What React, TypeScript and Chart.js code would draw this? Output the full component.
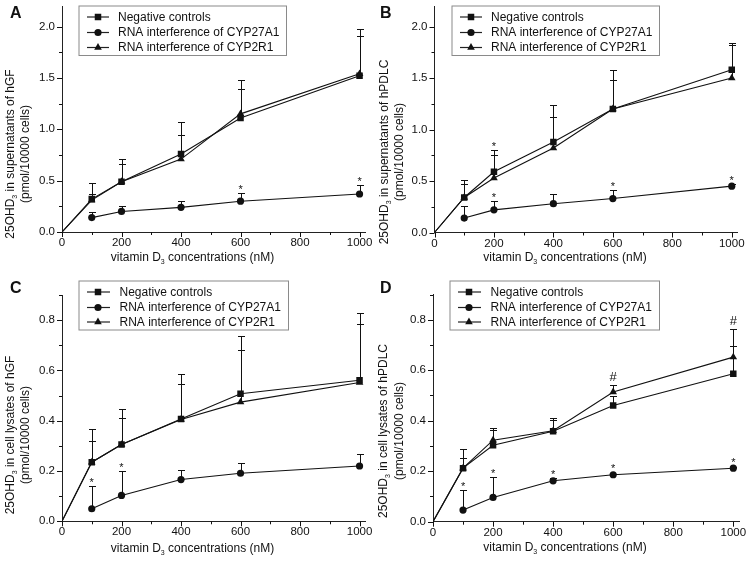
import React, { useEffect, useRef } from 'react';
import { Chart, registerables } from 'chart.js';
Chart.register(...registerables);

// ---------- shared data ----------
const doses = [0, 100, 200, 400, 600, 1000];
const rnaiDoses = [100, 200, 400, 600, 1000];
const seriesNames = ['Negative controls', 'RNA interference of CYP27A1', 'RNA interference of CYP2R1'];
const xTitle = 'vitamin D₃ concentrations (nM)';
const xMax = 1020;
const xMajor = 200;
const xMinor = 100;

// ---------- panel A: supernatants of hGF ----------
const aYTitle = ['25OHD₃ in supernatants of hGF', '(pmol/10000 cells)'];
const aNeg = [0, 0.32, 0.49, 0.76, 1.11, 1.52];
const aNegSD = [0, 0.16, 0.22, 0.31, 0.37, 0.46];
const aA1 = [0.14, 0.2, 0.24, 0.3, 0.37];
const aA1SD = [0.05, 0.055, 0.06, 0.08, 0.085];
const aR1 = [0, 0.31, 0.49, 0.71, 1.15, 1.54];
const aR1SD = [0, 0.06, 0.17, 0.23, 0.24, 0.37];
const aStarsNeg: number[] = [];
const aStarsA1 = [600, 1000];
const aHashR1: number[] = [];

// ---------- panel B: supernatants of hPDLC ----------
const bYTitle = ['25OHD₃ in supernatants of hPDLC', '(pmol/10000 cells)'];
const bNeg = [0, 0.34, 0.59, 0.88, 1.2, 1.58];
const bNegSD = [0, 0.17, 0.21, 0.36, 0.38, 0.26];
const bA1 = [0.14, 0.22, 0.28, 0.33, 0.45];
const bA1SD = [0.12, 0.09, 0.095, 0.08, 0.02];
const bR1 = [0, 0.34, 0.53, 0.82, 1.2, 1.5];
const bR1SD = [0, 0.13, 0.22, 0.3, 0.28, 0.32];
const bStarsNeg = [200];
const bStarsA1 = [200, 600, 1000];
const bHashR1: number[] = [];

// ---------- panel C: cell lysates of hGF ----------
const cYTitle = ['25OHD₃ in cell lysates of hGF', '(pmol/10000 cells)'];
const cNeg = [0, 0.235, 0.305, 0.407, 0.507, 0.561];
const cNegSD = [0, 0.132, 0.143, 0.177, 0.228, 0.269];
const cA1 = [0.05, 0.103, 0.166, 0.191, 0.22];
const cA1SD = [0.092, 0.097, 0.038, 0.041, 0.049];
const cR1 = [0, 0.235, 0.305, 0.405, 0.474, 0.552];
const cR1SD = [0, 0.083, 0.105, 0.143, 0.206, 0.232];
const cStarsNeg: number[] = [];
const cStarsA1 = [100, 200];
const cHashR1: number[] = [];

// ---------- panel D: cell lysates of hPDLC ----------
const dYTitle = ['25OHD₃ in cell lysates of hPDLC', '(pmol/10000 cells)'];
const dNeg = [0, 0.212, 0.303, 0.358, 0.46, 0.586];
const dNegSD = [0, 0.075, 0.062, 0.052, 0.037, 0.11];
const dA1 = [0.046, 0.096, 0.162, 0.186, 0.212];
const dA1SD = [0.081, 0.083, 0.012, 0.004, 0.004];
const dR1 = [0, 0.212, 0.323, 0.36, 0.514, 0.652];
const dR1SD = [0, 0.042, 0.049, 0.043, 0.026, 0.112];
const dStarsNeg: number[] = [];
const dStarsA1 = [100, 200, 400, 600, 1000];
const dHashR1 = [600, 1000];

// ---------- styling ----------
const SANS = '"Liberation Sans", Arial, Helvetica, sans-serif';
const INK = '#111';

type Rect = { left: number; top: number; w: number; h: number };
type Plot = { left: number; top: number; right: number; bottom: number };

const legendAB = { box: [78.5, 5.5, 286, 55], rows: [17, 32.5, 47.5], line: [87, 109], mark: 98, text: 118 };
const legendCD = { box: [78.5, 0.5, 288, 49.5], rows: [12, 27.5, 42], line: [87, 110], mark: 98, text: 119.5 };

const panels = [
  {
    letter: 'A', letterPos: [10, 14], canvas: { left: 0, top: 0, w: 373, h: 280 },
    plot: { left: 62, top: 6, right: 365.5, bottom: 232 },
    yMax: 2.2, yMajor: 0.5, yMinor: 0.25, yTitle: aYTitle, yTitlePos: [11, 26, 154], xTitlePos: [192.5, 258],
    legend: legendAB,
    neg: aNeg, negSD: aNegSD, a1: aA1, a1SD: aA1SD, r1: aR1, r1SD: aR1SD,
    starsNeg: aStarsNeg, starsA1: aStarsA1, hashR1: aHashR1,
  },
  {
    letter: 'B', letterPos: [7, 14], canvas: { left: 373, top: 0, w: 377, h: 280 },
    plot: { left: 434.5, top: 6, right: 737.7, bottom: 232.5 },
    yMax: 2.2, yMajor: 0.5, yMinor: 0.25, yTitle: bYTitle, yTitlePos: [12, 27, 152], xTitlePos: [192, 258],
    legend: legendAB,
    neg: bNeg, negSD: bNegSD, a1: bA1, a1SD: bA1SD, r1: bR1, r1SD: bR1SD,
    starsNeg: bStarsNeg, starsA1: bStarsA1, hashR1: bHashR1,
  },
  {
    letter: 'C', letterPos: [10, 9], canvas: { left: 0, top: 280, w: 373, h: 283 },
    plot: { left: 62, top: 295, right: 365.5, bottom: 521.3 },
    yMax: 0.9, yMajor: 0.2, yMinor: 0.1, yTitle: cYTitle, yTitlePos: [11, 26, 155], xTitlePos: [192.5, 269],
    legend: legendCD,
    neg: cNeg, negSD: cNegSD, a1: cA1, a1SD: cA1SD, r1: cR1, r1SD: cR1SD,
    starsNeg: cStarsNeg, starsA1: cStarsA1, hashR1: cHashR1,
  },
  {
    letter: 'D', letterPos: [9, 9], canvas: { left: 371, top: 280, w: 379, h: 283 },
    plot: { left: 433, top: 294.5, right: 739.3, bottom: 521.7 },
    yMax: 0.9, yMajor: 0.2, yMinor: 0.1, yTitle: dYTitle, yTitlePos: [13, 29, 151], xTitlePos: [194, 268],
    legend: legendCD,
    neg: dNeg, negSD: dNegSD, a1: dA1, a1SD: dA1SD, r1: dR1, r1SD: dR1SD,
    starsNeg: dStarsNeg, starsA1: dStarsA1, hashR1: dHashR1,
  },
];

const MARK = { rect: 4.6, circle: 3.6, triangle: 4.4 };

function isMult(v: number, step: number) {
  const q = v / step;
  return Math.abs(q - Math.round(q)) < 1e-6;
}

function drawMarker(ctx: CanvasRenderingContext2D, style: string, x: number, y: number) {
  ctx.beginPath();
  if (style === 'rect') {
    const s = MARK.rect * Math.SQRT1_2;
    ctx.rect(x - s, y - s, 2 * s, 2 * s);
  } else if (style === 'circle') {
    ctx.arc(x, y, MARK.circle, 0, Math.PI * 2);
  } else {
    const r = MARK.triangle;
    ctx.moveTo(x, y - r);
    ctx.lineTo(x + r * 0.866, y + r * 0.5);
    ctx.lineTo(x - r * 0.866, y + r * 0.5);
    ctx.closePath();
  }
  ctx.fill();
}

// draws text where '₃' is rendered as a lowered small "3"
function drawSubText(ctx: CanvasRenderingContext2D, text: string, cx: number, cy: number, size: number) {
  const parts = text.split('₃');
  const segs: { t: string; sub: boolean }[] = [];
  parts.forEach((p, i) => {
    if (i > 0) segs.push({ t: '3', sub: true });
    segs.push({ t: p, sub: false });
  });
  const big = `${size}px ${SANS}`;
  const small = `${Math.round(size * 0.62)}px ${SANS}`;
  let total = 0;
  const widths = segs.map((s) => {
    ctx.font = s.sub ? small : big;
    const w = ctx.measureText(s.t).width;
    total += w;
    return w;
  });
  let x = cx - total / 2;
  ctx.textAlign = 'left';
  ctx.textBaseline = 'middle';
  segs.forEach((s, i) => {
    ctx.font = s.sub ? small : big;
    ctx.fillText(s.t, x, s.sub ? cy + size * 0.33 : cy);
    x += widths[i];
  });
}

function PanelChart({ cfg }: { cfg: (typeof panels)[number] }) {
  const ref = useRef<HTMLCanvasElement>(null);
  const c: Rect = cfg.canvas;
  useEffect(() => {
    const canvas = ref.current!;
    const p: Plot = cfg.plot;
    const series = [
      { name: seriesNames[0], xs: doses, ys: cfg.neg, sd: cfg.negSD, style: 'rect' },
      { name: seriesNames[1], xs: rnaiDoses, ys: cfg.a1, sd: cfg.a1SD, style: 'circle' },
      { name: seriesNames[2], xs: doses, ys: cfg.r1, sd: cfg.r1SD, style: 'triangle' },
    ];

    const decor = {
      id: 'decor' + cfg.letter,
      beforeDatasetsDraw(chart: any) {
        const ctx: CanvasRenderingContext2D = chart.ctx;
        const xs = chart.scales.x;
        const ys = chart.scales.y;
        ctx.save();
        ctx.strokeStyle = INK;
        ctx.lineWidth = 1;
        series.forEach((s) => {
          s.xs.forEach((xv, i) => {
            const sd = s.sd[i];
            if (!sd) return;
            const px = Math.round(xs.getPixelForValue(xv)) + 0.5;
            const y0 = ys.getPixelForValue(s.ys[i]);
            const y1 = Math.round(ys.getPixelForValue(s.ys[i] + sd)) + 0.5;
            ctx.beginPath();
            ctx.moveTo(px, y0);
            ctx.lineTo(px, y1);
            ctx.moveTo(px - 3.5, y1);
            ctx.lineTo(px + 3.5, y1);
            ctx.stroke();
          });
        });
        ctx.restore();
      },
      afterDraw(chart: any) {
        const ctx: CanvasRenderingContext2D = chart.ctx;
        const xs = chart.scales.x;
        const ys = chart.scales.y;
        const area = chart.chartArea;
        ctx.save();
        ctx.strokeStyle = INK;
        ctx.fillStyle = INK;
        ctx.lineWidth = 1;
        // tick marks
        ctx.beginPath();
        xs.ticks.forEach((t: any) => {
          if (t.value > 1000 || !isMult(t.value, xMinor)) return;
          const len = isMult(t.value, xMajor) ? 5 : 3;
          const px = Math.round(xs.getPixelForValue(t.value)) + 0.5;
          ctx.moveTo(px, area.bottom);
          ctx.lineTo(px, area.bottom + len);
        });
        ys.ticks.forEach((t: any) => {
          if (!isMult(t.value, cfg.yMinor)) return;
          const len = isMult(t.value, cfg.yMajor) ? 5 : 3;
          const py = Math.round(ys.getPixelForValue(t.value)) + 0.5;
          ctx.moveTo(area.left, py);
          ctx.lineTo(area.left - len, py);
        });
        ctx.stroke();

        // significance marks
        const placeMark = (s: any, xv: number, txt: string, off: number, font: string, base: number) => {
          const i = s.xs.indexOf(xv);
          if (i < 0) return;
          const py = ys.getPixelForValue(s.ys[i]);
          const cap = ys.getPixelForValue(s.ys[i] + (s.sd[i] || 0));
          const cy = Math.min(cap, py - 2.5) - off;
          ctx.font = font;
          ctx.textAlign = 'center';
          ctx.textBaseline = 'alphabetic';
          ctx.fillText(txt, xs.getPixelForValue(xv), cy + base);
        };
        cfg.starsNeg.forEach((xv) => placeMark(series[0], xv, '*', 6, `11px ${SANS}`, 6));
        cfg.starsA1.forEach((xv) => placeMark(series[1], xv, '*', 6, `11px ${SANS}`, 6));
        cfg.hashR1.forEach((xv) => placeMark(series[2], xv, '#', 8.5, `13px ${SANS}`, 4.6));

        // legend
        const L = cfg.legend;
        ctx.fillStyle = '#fff';
        ctx.fillRect(L.box[0], L.box[1], L.box[2] - L.box[0], L.box[3] - L.box[1]);
        ctx.strokeStyle = '#8a8a8a';
        ctx.strokeRect(L.box[0] + 0.5, L.box[1] + 0.5, L.box[2] - L.box[0], L.box[3] - L.box[1]);
        series.forEach((s, i) => {
          const y = L.rows[i];
          ctx.strokeStyle = '#222';
          ctx.lineWidth = 1.2;
          ctx.beginPath();
          ctx.moveTo(L.line[0], y);
          ctx.lineTo(L.line[1], y);
          ctx.stroke();
          ctx.fillStyle = INK;
          drawMarker(ctx, s.style, L.mark, y);
          ctx.font = `12px ${SANS}`;
          ctx.textAlign = 'left';
          ctx.textBaseline = 'middle';
          ctx.fillText(s.name, L.text, y + 0.5);
        });

        // axis titles
        ctx.fillStyle = INK;
        const [t1x, t2x, tcy] = cfg.yTitlePos;
        ctx.save();
        ctx.translate(t1x, tcy);
        ctx.rotate(-Math.PI / 2);
        drawSubText(ctx, cfg.yTitle[0], 0, 0, 12);
        ctx.restore();
        ctx.save();
        ctx.translate(t2x, tcy);
        ctx.rotate(-Math.PI / 2);
        drawSubText(ctx, cfg.yTitle[1], 0, 0, 12);
        ctx.restore();
        drawSubText(ctx, xTitle, cfg.xTitlePos[0], cfg.xTitlePos[1], 12);

        // panel letter
        ctx.font = `bold 16px ${SANS}`;
        ctx.textAlign = 'left';
        ctx.textBaseline = 'middle';
        ctx.fillText(cfg.letter, cfg.letterPos[0], cfg.letterPos[1]);
        ctx.restore();
      },
    };

    const tickFont = { family: SANS, size: 11.5 };
    const chart = new Chart(canvas, {
      type: 'scatter',
      data: {
        datasets: series.map((s) => ({
          label: s.name,
          data: s.xs.map((x, i) => ({ x, y: s.ys[i] })),
          showLine: true,
          borderColor: INK,
          borderWidth: 1.1,
          backgroundColor: INK,
          pointBackgroundColor: INK,
          pointBorderWidth: 0,
          pointStyle: s.style as any,
          pointRadius: (ctx: any) => (ctx.raw && ctx.raw.x === 0 ? 0 : (MARK as any)[s.style]),
          tension: 0,
        })),
      },
      options: {
        animation: false,
        responsive: false,
        maintainAspectRatio: false,
        devicePixelRatio: 1,
        events: [],
        layout: {
          padding: {
            left: 0,
            bottom: 0,
            top: p.top - c.top,
            right: c.left + c.w - p.right,
          },
        },
        plugins: { legend: { display: false }, tooltip: { enabled: false }, title: { display: false } },
        scales: {
          x: {
            type: 'linear',
            min: 0,
            max: xMax,
            afterFit: (s: any) => {
              s.height = c.top + c.h - p.bottom;
              s.paddingLeft = 0;
              s.paddingRight = 0;
              s.paddingTop = 0;
              s.paddingBottom = 0;
            },
            grid: { display: true, drawOnChartArea: false, drawTicks: false },
            border: { display: true, color: '#222', width: 1 },
            ticks: {
              stepSize: xMinor,
              includeBounds: false,
              autoSkip: false,
              maxRotation: 0,
              padding: 4,
              color: INK,
              font: tickFont,
              callback: (v: any) => (Number(v) <= 1000 && isMult(Number(v), xMajor) ? String(v) : ''),
            },
            title: { display: false },
          },
          y: {
            type: 'linear',
            min: 0,
            max: cfg.yMax,
            afterFit: (s: any) => {
              s.width = p.left - c.left;
              s.paddingLeft = 0;
              s.paddingRight = 0;
              s.paddingTop = 0;
              s.paddingBottom = 0;
            },
            grid: { display: true, drawOnChartArea: false, drawTicks: false },
            border: { display: true, color: '#222', width: 1 },
            ticks: {
              stepSize: cfg.yMinor,
              includeBounds: false,
              autoSkip: false,
              padding: 7,
              color: INK,
              font: tickFont,
              callback: (v: any) => {
                const n = Number(v);
                return isMult(n, cfg.yMajor) && n <= cfg.yMax ? n.toFixed(1) : '';
              },
            },
            title: { display: false },
          },
        },
      },
      plugins: [decor],
    } as any);
    return () => chart.destroy();
  }, []);
  return (
    <canvas
      ref={ref}
      width={c.w}
      height={c.h}
      style={{ position: 'absolute', left: c.left, top: c.top, width: c.w, height: c.h }}
    />
  );
}

export default function App() {
  return (
    <div
      style={{
        position: 'fixed',
        left: 0,
        top: 0,
        width: 750,
        height: 563,
        overflow: 'hidden',
        background: '#fff',
      }}
    >
      {panels.map((cfg) => (
        <PanelChart key={cfg.letter} cfg={cfg} />
      ))}
    </div>
  );
}
